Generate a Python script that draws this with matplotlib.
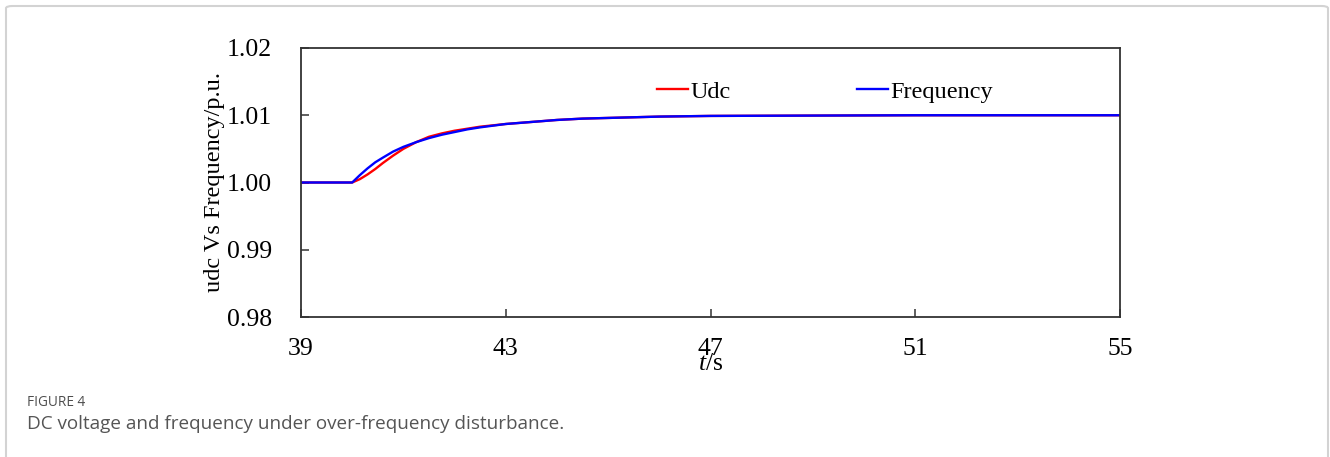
import matplotlib
matplotlib.use("Agg")
import matplotlib.pyplot as plt
from matplotlib.patches import FancyBboxPatch

# Data
t_freq = [39.0, 40.0, 40.15, 40.3, 40.45, 40.6, 40.8, 41.0, 41.25, 41.5, 41.75, 42.0, 42.25, 42.5, 43.0, 43.5, 44.0, 44.5, 45.0, 46.0, 47.0, 49.0, 51.0, 55.0]
freq = [1.0, 1.0, 1.0011, 1.0021, 1.0030, 1.0037, 1.0046, 1.0053, 1.0060, 1.0066, 1.0071, 1.0075, 1.0079, 1.0082, 1.0087, 1.0090, 1.0093, 1.0095, 1.0096, 1.0098, 1.0099, 1.00995, 1.0100, 1.0100]
t_udc = [39.0, 40.0, 40.15, 40.3, 40.45, 40.6, 40.8, 41.0, 41.25, 41.5, 41.75, 42.0, 42.25, 42.5, 43.0, 43.5, 44.0, 44.5, 45.0, 46.0, 47.0, 49.0, 51.0, 55.0]
udc = [1.0, 1.0, 1.0005, 1.0012, 1.0020, 1.0029, 1.0040, 1.0050, 1.0060, 1.0068, 1.0073, 1.0077, 1.0080, 1.0083, 1.0087, 1.0090, 1.0093, 1.0095, 1.0096, 1.0098, 1.0099, 1.00995, 1.0100, 1.0100]
x_ticks = [39, 43, 47, 51, 55]
y_ticks = [0.98, 0.99, 1.00, 1.01, 1.02]
y_ticklabels = ["0.98", "0.99", "1.00", "1.01", "1.02"]

serif = "Liberation Serif"
plt.rcParams["mathtext.fontset"] = "custom"
plt.rcParams["mathtext.it"] = "Liberation Serif:italic"
plt.rcParams["mathtext.rm"] = "Liberation Serif"

fig = plt.figure(figsize=(13.3, 4.57), dpi=100)

# outer frame
fig.patches.append(FancyBboxPatch((6 / 1330, -0.05), 1322 / 1330, (457 - 6) / 457 + 0.05,
                                  boxstyle="round,pad=0,rounding_size=0.005",
                                  transform=fig.transFigure, facecolor="none",
                                  edgecolor="#d3d3d3", linewidth=1.5, clip_on=False))

ax = fig.add_axes([301 / 1330, 1 - 317 / 457, (1120 - 301) / 1330, (317 - 48) / 457])
ax.plot(t_udc, udc, color="#ff0000", lw=1.7, label="Udc")
ax.plot(t_freq, freq, color="#0000ff", lw=1.7, label="Frequency")
ax.set_xlim(39, 55)
ax.set_ylim(0.98, 1.02)
ax.set_xticks(x_ticks)
ax.set_xticklabels([str(v) for v in x_ticks], fontfamily=serif, fontsize=18.5)
ax.set_yticks(y_ticks)
ax.set_yticklabels(y_ticklabels, fontfamily=serif, fontsize=18.5)
ax.tick_params(direction="in", length=6, width=1.1, color="#333333")
ax.tick_params(axis="x", pad=15)
ax.tick_params(axis="y", pad=21)
for s in ax.spines.values():
    s.set_color("#333333")
    s.set_linewidth(1.3)

ax.set_ylabel("udc Vs Frequency/p.u.", fontfamily=serif, fontsize=17.5, labelpad=1)
ax.set_xlabel(r"$\mathit{t}$/s", fontfamily=serif, fontsize=18.5, labelpad=-5)

leg = ax.legend(loc="upper left", bbox_to_anchor=((647 - 301) / 819, 1 - (71 - 48) / 269),
                ncol=2, frameon=False, prop={"family": serif, "size": 17.5},
                handlelength=1.28, handletextpad=0.1, columnspacing=5.2, borderaxespad=0)

fig.text(27 / 1330, 1 - 403 / 457, "FIGURE 4", fontfamily="Open Sans", fontsize=9.8,
         color="#4d4d4d", va="center", ha="left")
fig.text(27 / 1330, 1 - 424 / 457, "DC voltage and frequency under over-frequency disturbance.",
         fontfamily="Open Sans", fontsize=13.6, color="#555555", va="center", ha="left")

fig.savefig("out.png", dpi=100)
